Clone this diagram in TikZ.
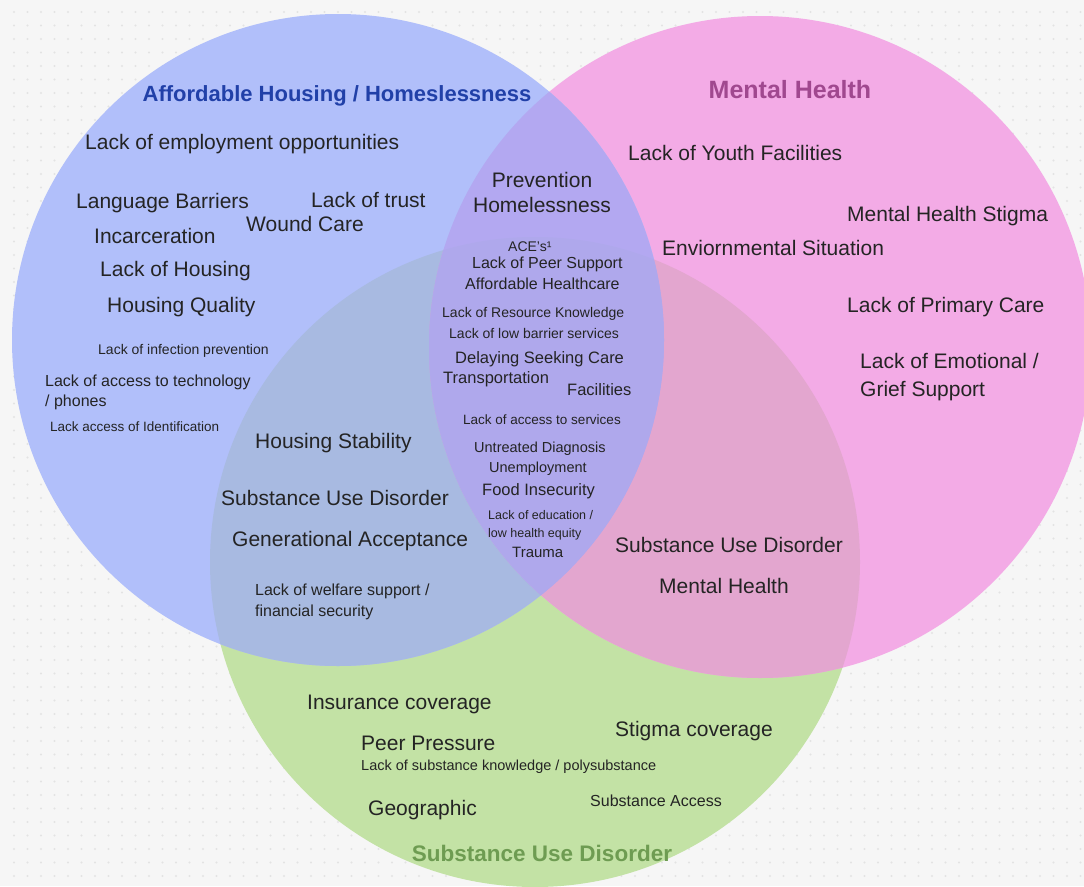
\documentclass[tikz,border=0pt]{standalone}
\usepackage{fontspec}
\setmainfont{Liberation Sans}
\usetikzlibrary{positioning}
\definecolor{PageGray}{HTML}{F6F6F6}
\definecolor{DotGray}{HTML}{E3E3E3}
\definecolor{HousingBlue}{HTML}{B1BFFA}
\definecolor{MentalPink}{HTML}{F3ABE6}
\definecolor{SubstGreen}{HTML}{C3E2A5}
\definecolor{BluePink}{HTML}{B3A8F1}
\definecolor{BlueGreen}{HTML}{A8BAE1}
\definecolor{PinkGreen}{HTML}{E3A6CF}
\definecolor{CoreLilac}{HTML}{AFA8EC}
\definecolor{InkGray}{HTML}{242424}
\definecolor{HousingTitle}{HTML}{2140A8}
\definecolor{MentalTitle}{HTML}{A0488F}
\definecolor{SubstTitle}{HTML}{6E9C52}

\begin{document}
\begin{tikzpicture}[x=1pt,y=-1pt,
      item/.style={anchor=west,inner sep=0pt,text=InkGray,text height=2.4ex,
                   text depth=.25ex,font=\fontsize{21}{25}\selectfont},
      itemm/.style={item,font=\fontsize{16.5}{20}\selectfont},
      items/.style={item,font=\fontsize{14}{17}\selectfont},
      multi/.style={anchor=west,inner sep=0pt,text=InkGray,align=left},
      ttl/.style={inner sep=0pt,text height=2.4ex,text depth=.25ex,
                  font=\fontsize{22.5}{25}\selectfont\bfseries},
    ]
    \useasboundingbox (0,0) rectangle (1084,886);
    \fill[PageGray] (0,0) rectangle (1084,886);
    \foreach \i in {0,...,79}
      \foreach \j in {0,...,65}
        \fill[DotGray] (14+13.5*\i,12+13.5*\j) circle (1.2pt);

    % the three sets
    \coordinate (hc) at (338,340);
    \coordinate (mc) at (760,347);
    \coordinate (sc) at (535,562);
    \fill[SubstGreen] (sc) circle[radius=325pt];
    \fill[MentalPink] (mc) circle[radius=331pt];
    \fill[HousingBlue] (hc) circle[radius=326pt];
    \begin{scope}
      \clip (sc) circle[radius=325pt];
      \fill[BlueGreen] (hc) circle[radius=326pt];
      \fill[PinkGreen] (mc) circle[radius=331pt];
    \end{scope}
    \begin{scope}
      \clip (hc) circle[radius=326pt];
      \fill[BluePink] (mc) circle[radius=331pt];
      \clip (mc) circle[radius=331pt];
      \fill[CoreLilac] (sc) circle[radius=325pt];
    \end{scope}

    \node[ttl,text=HousingTitle,font=\fontsize{22}{25}\selectfont\bfseries] (thouse) at (337,96) {Affordable Housing / Homeslessness};
    \node[ttl,text=MentalTitle,font=\fontsize{25}{28}\selectfont\bfseries] (tmental) at (790,93) {Mental Health};
    \node[ttl,text=SubstTitle] (tsubst) at (542,856) {Substance Use Disorder};

    % housing only
    \node[item] (employ) at (85,144) {Lack of employment opportunities};
    \node[item] (lang)   at (76,203) {Language Barriers};
    \node[item] (trust)  at (311,202) {Lack of trust};
    \node[item] (wound)  at (246,226) {Wound Care};
    \node[item] (incarc) at (94,238) {Incarceration};
    \node[item] (lackh)  at (100,271) {Lack of Housing};
    \node[item] (hqual)  at (107,307) {Housing Quality};
    \node[items] (infect) at (98,349) {Lack of infection prevention};
    \node[multi,font=\fontsize{16}{20}\selectfont] (tech) at (45,392) {Lack of access to technology\\/ phones};
    \node[items,font=\fontsize{13.5}{16}\selectfont] (ident) at (50,426) {Lack access of Identification};

    % housing and substance
    \node[item] (hstab)  at (255,443) {Housing Stability};
    \node[item] (sudh)   at (221,500) {Substance Use Disorder};
    \node[item] (genacc) at (232,541) {Generational Acceptance};
    \node[multi,font=\fontsize{16}{21}\selectfont] (welfare) at (255,602) {Lack of welfare support /\\financial security};

    % housing and mental health
    \node[multi,anchor=center,align=center,font=\fontsize{21}{25}\selectfont] (prevh) at (542,192) {Prevention\\Homelessness};
    \node[items] (aces)   at (508,246) {ACE's¹};
    \node[itemm,font=\fontsize{16}{19}\selectfont] (peer)  at (472,263) {Lack of Peer Support};
    \node[itemm,font=\fontsize{16}{19}\selectfont] (afford) at (465,284) {Affordable Healthcare};
    \node[items] (resk)   at (442,312) {Lack of Resource Knowledge};
    \node[items] (lowbar) at (449,333) {Lack of low barrier services};
    \node[itemm] (delay)  at (455,358) {Delaying Seeking Care};
    \node[itemm] (transp) at (443,378) {Transportation};
    \node[itemm] (facil)  at (567,390) {Facilities};

    % all three
    \node[items,font=\fontsize{13.5}{16}\selectfont] (access) at (463,419) {Lack of access to services};
    \node[items,font=\fontsize{14.5}{17}\selectfont] (untreat) at (474,447) {Untreated Diagnosis};
    \node[items,font=\fontsize{14.5}{17}\selectfont] (unemp) at (489,467) {Unemployment};
    \node[itemm] (food)   at (482,490) {Food Insecurity};
    \node[multi,font=\fontsize{12.5}{18}\selectfont] (educ) at (488,525) {Lack of education /\\low health equity};
    \node[items,font=\fontsize{15}{18}\selectfont] (trauma) at (512,552) {Trauma};

    % mental health only
    \node[item] (youth)  at (628,155) {Lack of Youth Facilities};
    \node[item] (stigma) at (847,216) {Mental Health Stigma};
    \node[item] (enviro) at (662,250) {Enviornmental Situation};
    \node[item] (primary) at (847,307) {Lack of Primary Care};
    \node[multi,font=\fontsize{21}{28}\selectfont] (grief) at (860,377) {Lack of Emotional /\\Grief Support};

    % mental health and substance
    \node[item] (sudm)   at (615,547) {Substance Use Disorder};
    \node[item] (mhealth) at (659,588) {Mental Health};

    % substance only
    \node[item] (insur)  at (307,704) {Insurance coverage};
    \node[item] (stigcov) at (615,731) {Stigma coverage};
    \node[item] (peerp)  at (361,745) {Peer Pressure};
    \node[items,font=\fontsize{14.5}{17}\selectfont] (poly) at (361,765) {Lack of substance knowledge / polysubstance};
    \node[item] (geo)    at (368,810) {Geographic};
    \node[items,font=\fontsize{16}{19}\selectfont] (saccess) at (590,801) {Substance Access};
  \end{tikzpicture}
\end{document}
